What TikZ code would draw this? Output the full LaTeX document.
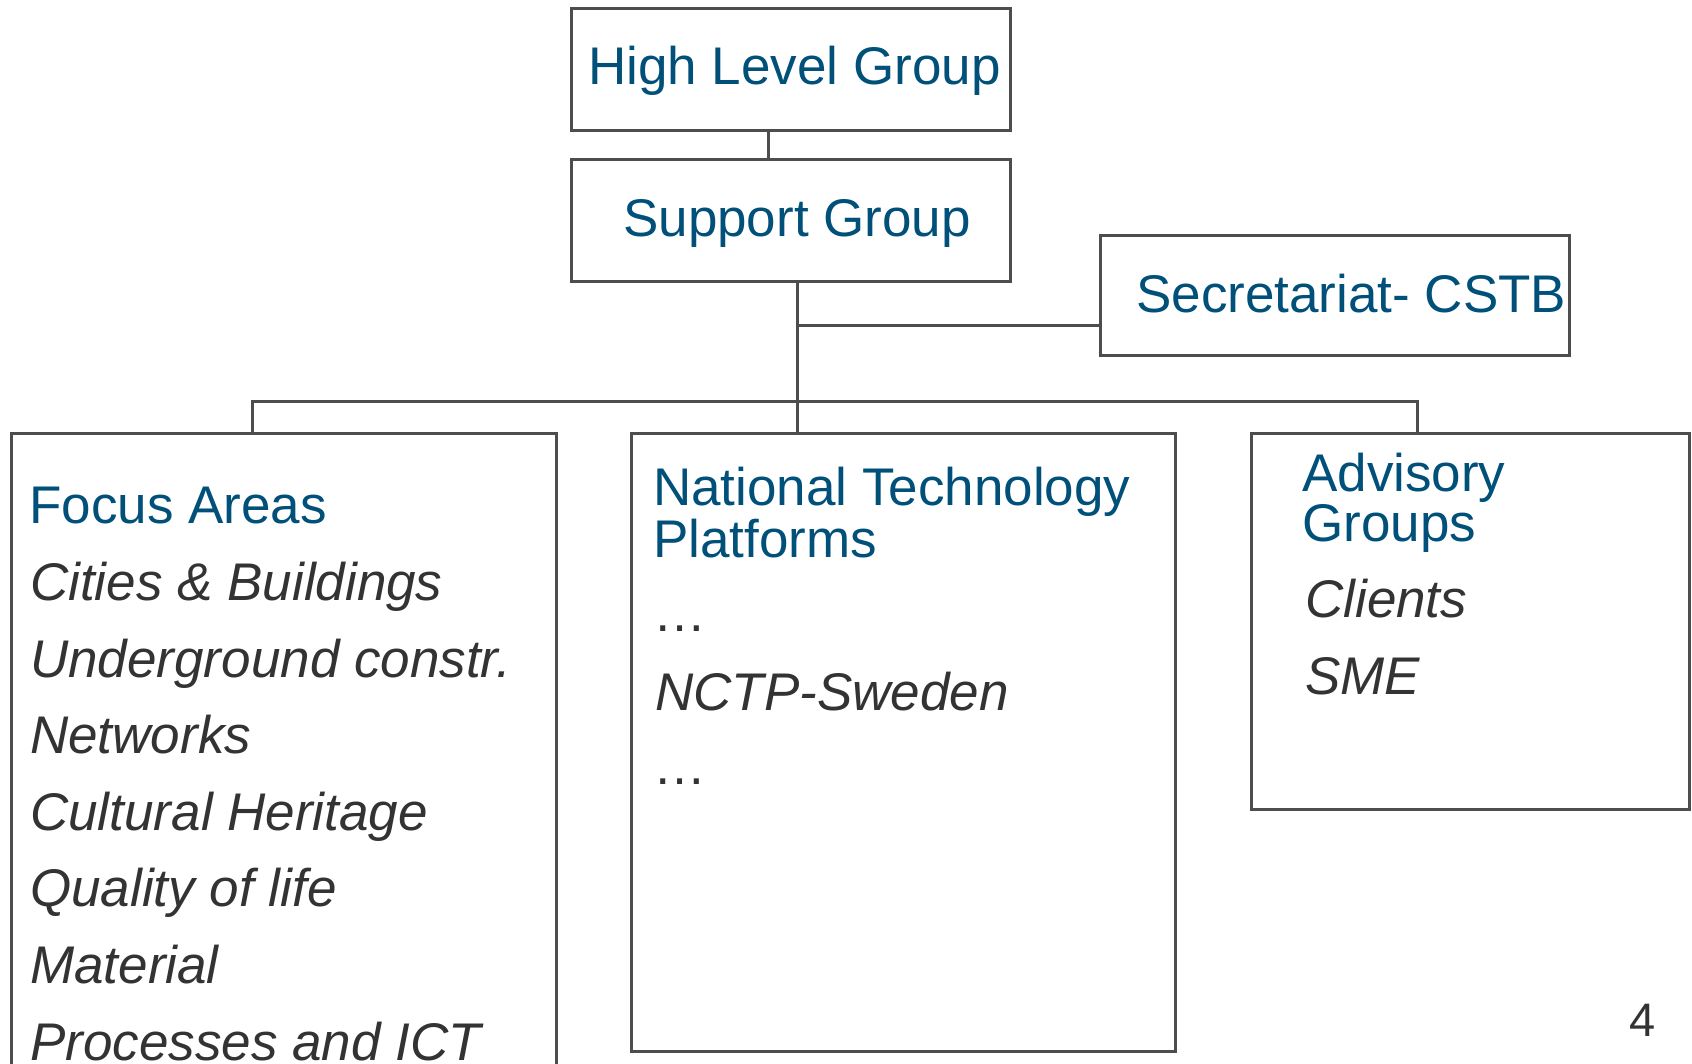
\documentclass[tikz,border=0pt]{standalone}
\usepackage{fontspec}
\setmainfont{Liberation Sans}
\definecolor{hdblue}{RGB}{0,80,122}
\definecolor{linegray}{RGB}{77,77,77}
\definecolor{itemgray}{RGB}{51,51,51}
\begin{document}
\begin{tikzpicture}[x=1pt,y=-1pt,
  box/.style={draw=linegray, line width=3pt, rectangle, inner sep=0pt},
  conn/.style={draw=linegray, line width=3pt},
  head/.style={anchor=base west, inner sep=0pt, text=hdblue, font=\fontsize{53}{53}\selectfont},
  item/.style={anchor=base west, inner sep=0pt, text=itemgray, font=\fontsize{53}{53}\selectfont\itshape},
  plain/.style={anchor=base west, inner sep=0pt, text=itemgray, font=\fontsize{53}{53}\selectfont},
]
\fill[white] (0,0) rectangle (1692,1064);
\useasboundingbox (0,0) rectangle (1692,1064);

% boxes
\node[box, minimum width=439pt, minimum height=122pt] (hlg) at (790.5,70) {};
\node[box, minimum width=439pt, minimum height=122pt] (sg) at (790.5,221) {};
\node[box, minimum width=469pt, minimum height=120pt] (sec) at (1334.5,296) {};
\node[box, minimum width=545pt, minimum height=667pt] (focus) at (283.5,766.5) {};
\node[box, minimum width=544pt, minimum height=618pt] (ntp) at (903,742) {};
\node[box, minimum width=438pt, minimum height=376pt] (adv) at (1470,621) {};

% connectors
\coordinate (c1) at (768,0);
\coordinate (j) at (797,326);
\coordinate (bus) at (797,402);
\coordinate (bl) at (252,402);
\coordinate (br) at (1417,402);
\draw[conn] (hlg.south -| c1) -- (sg.north -| c1);
\draw[conn] (sg.south -| bus) -- (bus);
\draw[conn] (j) -- (j -| sec.west);
\draw[conn] (focus.north -| bl) -- (bl) -- (br) -- (adv.north -| br);
\draw[conn] (bus) -- (ntp.north -| bus);

% top texts
\node[head] (thlg) at (588,85) {High Level Group};
\node[head] (tsg) at (623,237) {Support Group};
\node[head] (tsec) at (1136,313) {Secretariat- CSTB};

% focus areas
\node[head] (tfa) at (29,523) {Focus Areas};
\node[item] (f1) at (30,600) {Cities \& Buildings};
\node[item] (f2) at (30,677) {Underground constr.};
\node[item] (f3) at (30,753) {Networks};
\node[item] (f4) at (30,830) {Cultural Heritage};
\node[item] (f5) at (30,906) {Quality of life};
\node[item] (f6) at (30,983) {Material};
\node[item] (f7) at (30,1060) {Processes and ICT};

% national technology platforms
\node[head] (tn1) at (653,505) {National Technology};
\node[head] (tn2) at (653,557) {Platforms};
\node[plain] (n1) at (653,631) {…};
\node[item] (n2) at (655,710) {NCTP-Sweden};
\node[plain] (n3) at (653,784) {…};

% advisory groups
\node[head] (ta1) at (1302,491) {Advisory};
\node[head] (ta2) at (1302,541) {Groups};
\node[item] (a1) at (1305,617) {Clients};
\node[item] (a2) at (1305,694) {SME};

% page number
\node[anchor=base west, inner sep=0pt, text=itemgray, font=\fontsize{47}{47}\selectfont] (pg) at (1629,1036) {4};
\end{tikzpicture}
\end{document}
